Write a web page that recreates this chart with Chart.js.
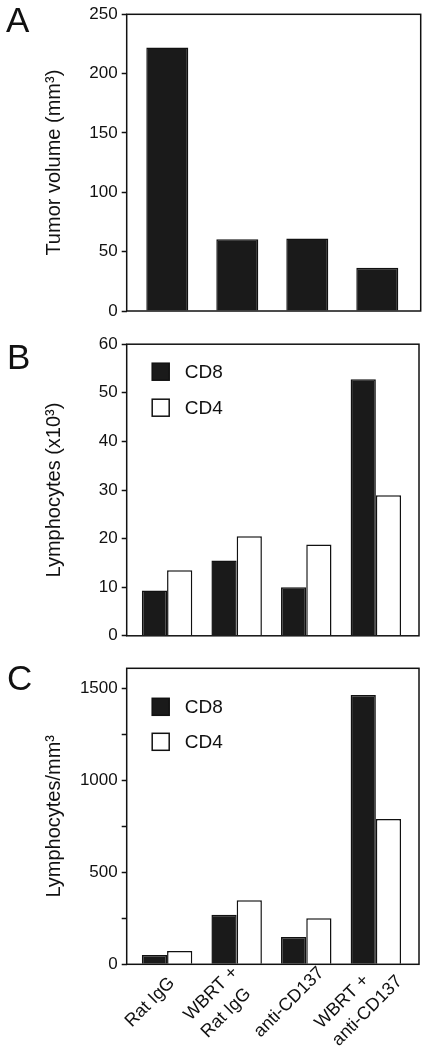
<!DOCTYPE html>
<html><head><meta charset="utf-8">
<script src="https://cdn.jsdelivr.net/npm/chart.js@4.4.1/dist/chart.umd.min.js"></script>
<style>
html,body{margin:0;padding:0;background:#fff;}
#wrap{position:relative;width:429px;height:1050px;overflow:hidden;font-family:"Liberation Sans",Arial,sans-serif;}
.pane{position:absolute;left:0;width:429px;}
.letter{position:absolute;font-size:35px;line-height:35px;color:#111;font-family:"Liberation Sans",Arial,sans-serif;}
</style></head><body>
<div id="wrap">
  <div class="pane" style="top:0;height:330px"><canvas id="cA"></canvas></div>
  <div class="pane" style="top:330px;height:320px"><canvas id="cB"></canvas></div>
  <div class="pane" style="top:650px;height:400px"><canvas id="cC"></canvas></div>
  <div class="letter" style="left:6px;top:2px">A</div>
  <div class="letter" style="left:7px;top:339px">B</div>
  <div class="letter" style="left:7px;top:660px">C</div>
</div>
<script>
// ---- data ----
const categories = [["Rat IgG"], ["WBRT +", "Rat IgG"], ["anti-CD137"], ["WBRT +", "anti-CD137"]];
const seriesNames = ["CD8", "CD4"];
const tumorVolume = [222, 60.5, 61, 36.5];
const cd8Count = [9.3, 15.5, 10, 52.8];
const cd4Count = [13.5, 20.5, 18.8, 28.9];
const cd8Density = [50, 270, 148, 1465];
const cd4Density = [72, 348, 250, 790];
const yTicksA = [0, 50, 100, 150, 200, 250];
const yTicksB = [0, 10, 20, 30, 40, 50, 60];
const yTicksC = [0, 250, 500, 750, 1000, 1250, 1500];
const yLabelsC = [0, 500, 1000, 1500];

// ---- styling helpers ----
const FONT = '"Liberation Sans", Arial, sans-serif';
const INK = '#111';
const DARK = '#1a1a1a';
Chart.defaults.font.family = FONT;
Chart.defaults.color = INK;

const boxPlugin = {
  id: 'frameBox',
  afterDatasetsDraw(chart) {
    const a = chart.chartArea, ctx = chart.ctx;
    ctx.save();
    ctx.strokeStyle = INK; ctx.lineWidth = 1.5;
    ctx.strokeRect(a.left, a.top, a.right - a.left, a.bottom - a.top);
    ctx.restore();
  }
};
const innerLegend = {
  id: 'innerLegend',
  afterDraw(chart, args, opts) {
    if (!opts || !opts.show) return;
    const a = chart.chartArea, ctx = chart.ctx;
    ctx.save();
    chart.data.datasets.forEach((ds, i) => {
      const y = a.top + opts.y + i * opts.gap;
      ctx.fillStyle = ds.backgroundColor;
      ctx.fillRect(a.left + opts.x, y, opts.box, opts.box);
      ctx.strokeStyle = INK; ctx.lineWidth = 1.5;
      ctx.strokeRect(a.left + opts.x, y, opts.box, opts.box);
      ctx.fillStyle = INK;
      ctx.font = '19px ' + FONT;
      ctx.textBaseline = 'middle'; ctx.textAlign = 'left';
      ctx.fillText(ds.label, a.left + opts.textX, y + opts.box / 2 + 1);
    });
    ctx.restore();
  }
};
// category labels of the x scale: rotated 45°, lines left-aligned, block centred under each tick
const xCatLabels = {
  id: 'xCatLabels',
  afterDraw(chart, args, opts) {
    if (!opts || !opts.show) return;
    const xs = chart.scales.x, ctx = chart.ctx, axisY = chart.chartArea.bottom;
    ctx.save();
    ctx.font = opts.size + 'px ' + FONT;
    ctx.fillStyle = INK; ctx.textAlign = 'left'; ctx.textBaseline = 'alphabetic';
    xs.ticks.forEach(t => {
      const lines = categories[t.value];
      if (!lines) return;
      const px = xs.getPixelForValue(t.value);
      const W = Math.max(...lines.map(l => ctx.measureText(l).width));
      ctx.save();
      ctx.translate(px + opts.dx, axisY + opts.dy);
      ctx.rotate(-Math.PI / 4);
      lines.forEach((l, j) => {
        ctx.fillText(l, -W / 2, (j - (lines.length - 1) / 2) * opts.spacing);
      });
      ctx.restore();
    });
    ctx.restore();
  }
};

function pts(arr) { return arr.map((v, i) => ({ x: i, y: v })); }

function makeChart(id, cfg) {
  const canvasH = cfg.canvasH;
  return new Chart(document.getElementById(id), {
    type: 'bar',
    data: { datasets: cfg.datasets },
    options: {
      responsive: true, maintainAspectRatio: false, animation: false,
      layout: { padding: { left: 0, top: cfg.top, right: 429 - cfg.right, bottom: 0 } },
      datasets: { bar: { categoryPercentage: cfg.catPct, barPercentage: 1, borderWidth: 1.5, borderColor: INK } },
      plugins: {
        legend: { display: false }, tooltip: { enabled: false },
        innerLegend: cfg.legend || { show: false },
        xCatLabels: { show: cfg.showX, size: 18, spacing: 24.5, dx: -13.5, dy: 41.5 }
      },
      scales: {
        x: {
          type: 'linear', min: -0.58, max: 3.62, offset: false, bounds: 'data',
          afterBuildTicks: s => { s.ticks = categories.map((c, i) => ({ value: i })); },
          ticks: { display: false },
          grid: { display: false, drawTicks: false, offset: false },
          border: { display: false },
          afterFit: s => { s.height = canvasH - cfg.bottom; }
        },
        y: {
          min: 0, max: cfg.yMax,
          afterBuildTicks: s => { s.ticks = cfg.yTicks.map(v => ({ value: v })); },
          ticks: {
            font: { size: 17 }, color: INK, padding: 4,
            callback: v => (cfg.yLabels.includes(v) ? String(v) : '')
          },
          grid: { drawOnChartArea: false, drawTicks: true, tickLength: 5, tickWidth: 1.5, tickColor: INK },
          border: { display: false },
          title: { display: true, text: cfg.title, font: { size: 20 }, color: INK, padding: { top: 42, bottom: 0 } },
          afterFit: s => { s.width = 126.7; }
        }
      }
    },
    plugins: [boxPlugin, innerLegend, xCatLabels]
  });
}

makeChart('cA', {
  canvasH: 330, top: 14.3, bottom: 311, right: 420.7, catPct: 0.6, showX: false,
  yMax: 250, yTicks: yTicksA, yLabels: yTicksA, title: 'Tumor volume (mm³)',
  datasets: [{ label: 'Tumor volume', data: pts(tumorVolume), backgroundColor: DARK }]
});
makeChart('cB', {
  canvasH: 320, top: 11, bottom: 306.7, right: 419, catPct: 0.725, showX: false,
  yMax: 60, yTicks: yTicksB, yLabels: yTicksB, title: 'Lymphocytes (x10³)',
  legend: { show: true, x: 25.5, y: 19, gap: 36, box: 17, textX: 58 },
  datasets: [
    { label: seriesNames[0], data: pts(cd8Count), backgroundColor: DARK },
    { label: seriesNames[1], data: pts(cd4Count), backgroundColor: '#ffffff' }
  ]
});
makeChart('cC', {
  canvasH: 400, top: 18.3, bottom: 314.3, right: 419, catPct: 0.725, showX: true,
  yMax: 1610, yTicks: yTicksC, yLabels: yLabelsC, title: 'Lymphocytes/mm³',
  legend: { show: true, x: 25.5, y: 30, gap: 35, box: 17, textX: 58 },
  datasets: [
    { label: seriesNames[0], data: pts(cd8Density), backgroundColor: DARK },
    { label: seriesNames[1], data: pts(cd4Density), backgroundColor: '#ffffff' }
  ]
});
</script>
</body></html>
